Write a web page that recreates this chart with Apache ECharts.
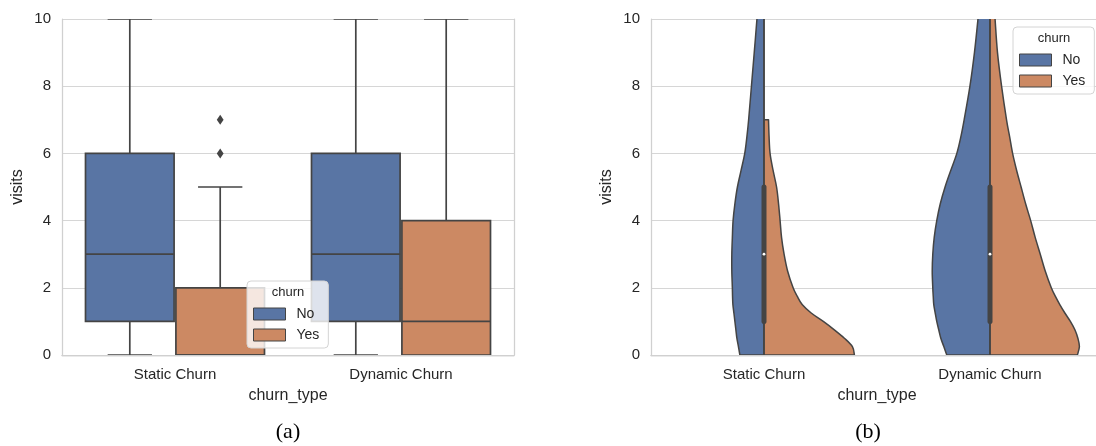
<!DOCTYPE html>
<html>
<head>
<meta charset="utf-8">
<script src="https://cdn.jsdelivr.net/npm/echarts@6/dist/echarts.min.js"></script>
<style>
  html, body { margin: 0; padding: 0; background: #ffffff; }
  #chart { width: 1096px; height: 446px; }
</style>
</head>
<body>
<div id="chart"></div>
<script>
// ---------------- data ----------------
const categories = ['Static Churn', 'Dynamic Churn'];
const hueNames = ['No', 'Yes'];
const yTicks = [0, 2, 4, 6, 8, 10];

// box plot stats: [categoryIndex, min, q1, median, q3, max]
const boxNo  = [[0, 0, 1, 3, 6, 10], [1, 0, 1, 3, 6, 10]];
const boxYes = [[0, 0, 0, 0, 2, 5],  [1, 0, 0, 1, 4, 10]];
// outliers: [categoryIndex, value]
const outYes = [[0, 6], [0, 7]];

// violin: density (relative, 1 = widest half) sampled at violinY
const violinY = [0, 0.25, 0.5, 0.75, 1, 1.25, 1.5, 1.75, 2, 2.5, 3, 3.5, 4, 4.5, 5, 5.5, 6, 6.5, 7, 8, 9, 10, 10.5];
const densStaticNo   = [0.267,0.283,0.300,0.311,0.322,0.333,0.344,0.348,0.350,0.356,0.356,0.350,0.342,0.322,0.294,0.253,0.213,0.189,0.170,0.139,0.108,0.078,0.067];
const densStaticYes  = [1.000,0.978,0.889,0.778,0.656,0.522,0.422,0.367,0.322,0.261,0.222,0.194,0.178,0.161,0.139,0.100,0.067,0.056,0.050,null,null,null,null];
const densDynamicNo  = [0.478,0.511,0.544,0.567,0.589,0.606,0.622,0.628,0.633,0.639,0.633,0.617,0.589,0.550,0.497,0.433,0.367,0.322,0.286,0.222,0.172,0.133,0.117];
const densDynamicYes = [0.967,0.989,0.972,0.939,0.889,0.828,0.772,0.722,0.678,0.611,0.556,0.500,0.450,0.394,0.344,0.294,0.250,0.217,0.183,0.128,0.083,0.056,0.044];
// inner box of violins (both hues combined): [categoryIndex, min, q1, median, q3, max]
const violinInner = [[0, 0, 1, 3, 5, 10], [1, 0, 1, 3, 5, 10]];

// ---------------- styles ----------------
const COLORS = { No: '#5975a4', Yes: '#cc8963' };
const LINE = '#444444';
const GRIDC = '#d6d6d6';
const SPINE = '#d0d0d0';
const TXT = '#262626';
const FONT = '"Liberation Sans", Arial, Helvetica, sans-serif';

const chart = echarts.init(document.getElementById('chart'), null, { renderer: 'canvas' });

function boxItem(side) {
  return function (params, api) {
    const cat = api.value(0);
    const band = api.size([1, 0])[0];
    const cx = api.coord([cat, 0])[0] + side * 0.2 * band;
    const w = 0.392 * band, cap = w / 2;
    const y = k => api.coord([cat, api.value(k)])[1];
    const ymin = y(1), yq1 = y(2), ymed = y(3), yq3 = y(4), ymax = y(5);
    const ls = { stroke: LINE, lineWidth: 1.7 };
    return {
      type: 'group',
      children: [
        { type: 'line', shape: { x1: cx, y1: yq1, x2: cx, y2: ymin }, style: ls },
        { type: 'line', shape: { x1: cx, y1: yq3, x2: cx, y2: ymax }, style: ls },
        { type: 'line', shape: { x1: cx - cap / 2, y1: ymin, x2: cx + cap / 2, y2: ymin }, style: ls },
        { type: 'line', shape: { x1: cx - cap / 2, y1: ymax, x2: cx + cap / 2, y2: ymax }, style: ls },
        { type: 'rect', shape: { x: cx - w / 2, y: yq3, width: w, height: yq1 - yq3 },
          style: { fill: api.visual('color'), stroke: LINE, lineWidth: 1.7 } },
        { type: 'line', shape: { x1: cx - w / 2, y1: ymed, x2: cx + w / 2, y2: ymed }, style: ls }
      ]
    };
  };
}

function outlierItem(side) {
  return function (params, api) {
    const cat = api.value(0);
    const band = api.size([1, 0])[0];
    const p = api.coord([cat, api.value(1)]);
    const cx = p[0] + side * 0.2 * band, cy = p[1];
    return { type: 'polygon', shape: { points: [[cx, cy - 5], [cx + 3.4, cy], [cx, cy + 5], [cx - 3.4, cy]] },
      style: { fill: LINE } };
  };
}

function catmullPath(pts) {
  let d = '';
  for (let i = 0; i < pts.length - 1; i++) {
    const p0 = pts[Math.max(0, i - 1)], p1 = pts[i], p2 = pts[i + 1], p3 = pts[Math.min(pts.length - 1, i + 2)];
    const c1 = [p1[0] + (p2[0] - p0[0]) / 6, p1[1] + (p2[1] - p0[1]) / 6];
    const c2 = [p2[0] - (p3[0] - p1[0]) / 6, p2[1] - (p3[1] - p1[1]) / 6];
    d += ' C' + c1[0].toFixed(2) + ',' + c1[1].toFixed(2) + ' ' + c2[0].toFixed(2) + ',' + c2[1].toFixed(2) + ' ' + p2[0].toFixed(2) + ',' + p2[1].toFixed(2);
  }
  return d;
}

function violinItem(densList, side) {
  return function (params, api) {
    const cat = api.value(0);
    const dens = densList[cat];
    const band = api.size([1, 0])[0];
    const cx = api.coord([cat, 0])[0];
    const pts = [];
    for (let i = 0; i < violinY.length; i++) {
      if (dens[i] == null) continue;
      const py = api.coord([cat, violinY[i]])[1];
      pts.push([cx + side * dens[i] * 0.4 * band, py]);
    }
    const b = pts[0], t = pts[pts.length - 1];
    const pathData = 'M' + cx + ',' + b[1] + ' L' + b[0].toFixed(2) + ',' + b[1].toFixed(2) + catmullPath(pts) + ' L' + cx + ',' + t[1].toFixed(2) + ' Z';
    return { type: 'path', shape: { pathData: pathData },
      style: { fill: api.visual('color'), stroke: LINE, lineWidth: 1.5, lineJoin: 'round' } };
  };
}

function innerItem(params, api) {
  const cat = api.value(0);
  const cx = api.coord([cat, 0])[0];
  const y = k => api.coord([cat, api.value(k)])[1];
  return {
    type: 'group',
    children: [
      { type: 'line', shape: { x1: cx, y1: y(1), x2: cx, y2: y(5) }, style: { stroke: LINE, lineWidth: 1.5 } },
      { type: 'line', shape: { x1: cx, y1: y(2), x2: cx, y2: y(4) }, style: { stroke: LINE, lineWidth: 5, lineCap: 'round' } },
      { type: 'circle', shape: { cx: cx, cy: y(3), r: 1.4 }, style: { fill: '#ffffff' } }
    ]
  };
}

const spineLine = { show: true, lineStyle: { color: SPINE, width: 1.25 } };

function xAxis(gi) {
  return {
    type: 'category', gridIndex: gi, data: categories, boundaryGap: true, position: 'bottom', z: 10,
    axisLine: spineLine, axisTick: { show: false }, splitLine: { show: false },
    axisLabel: { color: TXT, fontSize: 15, fontFamily: FONT, margin: 12 },
    name: 'churn_type', nameLocation: 'middle', nameGap: 33,
    nameTextStyle: { color: TXT, fontSize: 16, fontFamily: FONT }
  };
}
function xAxisTop(gi) {
  return {
    type: 'category', gridIndex: gi, data: categories, boundaryGap: true, position: 'top', z: 10,
    axisLine: spineLine, axisTick: { show: false }, splitLine: { show: false }, axisLabel: { show: false }
  };
}
// main value axis: labels, name and horizontal grid lines (drawn beneath the marks)
function yAxis(gi) {
  return {
    type: 'value', gridIndex: gi, min: 0, max: 10, interval: 2, position: 'left', z: 0,
    axisLine: { show: false }, axisTick: { show: false },
    splitLine: { show: true, lineStyle: { color: GRIDC, width: 1 } },
    axisLabel: { color: TXT, fontSize: 15, fontFamily: FONT, margin: 11,
      formatter: v => (yTicks.indexOf(v) >= 0 ? String(v) : '') },
    name: 'visits', nameLocation: 'middle', nameGap: 36,
    nameTextStyle: { color: TXT, fontSize: 16, fontFamily: FONT }
  };
}
// spine-only value axes (drawn above the marks)
function ySpine(gi, pos) {
  return {
    type: 'value', gridIndex: gi, min: 0, max: 10, interval: 2, position: pos, offset: 0, z: 10,
    axisLine: spineLine, axisTick: { show: false }, splitLine: { show: false }, axisLabel: { show: false }
  };
}
function legend(left, top) {
  return {
    data: hueNames, orient: 'vertical', left: left, top: top,
    padding: [26, 9, 6, 6], itemGap: 7, itemWidth: 32, itemHeight: 12, icon: 'rect',
    backgroundColor: 'rgba(255,255,255,0.8)', borderColor: '#d4d4d4', borderWidth: 1, borderRadius: 4,
    itemStyle: { borderColor: LINE, borderWidth: 1 },
    textStyle: { color: TXT, fontSize: 14, fontFamily: FONT, padding: [0, 0, 0, 6] },
    selectedMode: false
  };
}

const option = {
  backgroundColor: '#ffffff',
  animation: false,
  grid: [
    { left: 62, top: 19, width: 452, height: 336, show: false, outerBoundsMode: 'none' },
    { left: 651, top: 19, width: 452, height: 336, show: false, outerBoundsMode: 'none' }
  ],
  // x axes 0,1 = bottom/top of left panel; 2,3 = bottom/top of right panel
  xAxis: [xAxis(0), xAxisTop(0), xAxis(1), xAxisTop(1)],
  // y axes 0..2 left panel (main, left spine, right spine); 3..5 right panel
  yAxis: [yAxis(0), ySpine(0, 'left'), ySpine(0, 'right'), yAxis(1), ySpine(1, 'left'), ySpine(1, 'right')],
  legend: [legend(247, 281), legend(1013, 27)],
  graphic: [
    { type: 'text', x: 288, y: 286, z: 100, style: { text: 'churn', fill: TXT, fontSize: 13, fontFamily: FONT, textAlign: 'center' } },
    { type: 'text', x: 1054, y: 32, z: 100, style: { text: 'churn', fill: TXT, fontSize: 13, fontFamily: FONT, textAlign: 'center' } },
    { type: 'text', x: 288, y: 421, style: { text: '(a)', fill: '#000', fontSize: 22, fontFamily: '"Liberation Serif", "Times New Roman", serif', textAlign: 'center' } },
    { type: 'text', x: 868, y: 421, style: { text: '(b)', fill: '#000', fontSize: 22, fontFamily: '"Liberation Serif", "Times New Roman", serif', textAlign: 'center' } }
  ],
  series: [
    { name: 'No', type: 'custom', xAxisIndex: 0, yAxisIndex: 0, clip: true,
      itemStyle: { color: COLORS.No }, encode: { x: 0, y: [1, 2, 3, 4, 5] },
      renderItem: boxItem(-1), data: boxNo },
    { name: 'Yes', type: 'custom', xAxisIndex: 0, yAxisIndex: 0, clip: true,
      itemStyle: { color: COLORS.Yes }, encode: { x: 0, y: [1, 2, 3, 4, 5] },
      renderItem: boxItem(1), data: boxYes },
    { name: 'Yes outliers', type: 'custom', xAxisIndex: 0, yAxisIndex: 0, clip: true,
      itemStyle: { color: LINE }, encode: { x: 0, y: 1 },
      renderItem: outlierItem(1), data: outYes },
    { name: 'No', type: 'custom', xAxisIndex: 2, yAxisIndex: 3, clip: true,
      itemStyle: { color: COLORS.No }, encode: { x: 0 },
      renderItem: violinItem([densStaticNo, densDynamicNo], -1), data: [[0], [1]] },
    { name: 'Yes', type: 'custom', xAxisIndex: 2, yAxisIndex: 3, clip: true,
      itemStyle: { color: COLORS.Yes }, encode: { x: 0 },
      renderItem: violinItem([densStaticYes, densDynamicYes], 1), data: [[0], [1]] },
    { name: 'inner box', type: 'custom', xAxisIndex: 2, yAxisIndex: 3, clip: true, z: 3,
      itemStyle: { color: LINE }, encode: { x: 0, y: [1, 2, 3, 4, 5] },
      renderItem: innerItem, data: violinInner }
  ]
};
chart.setOption(option);
</script>
</body>
</html>
